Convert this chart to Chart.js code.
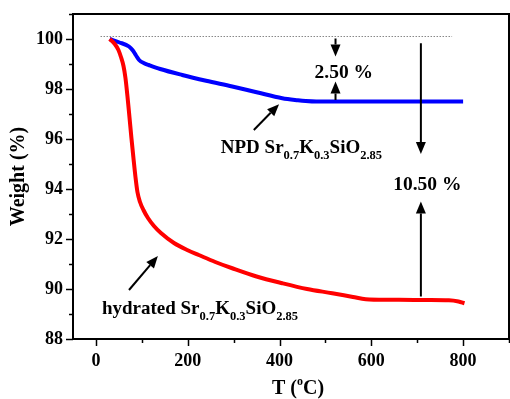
<!DOCTYPE html>
<html>
<head>
<meta charset="utf-8">
<script src="https://cdn.jsdelivr.net/npm/chart.js@4.4.1/dist/chart.umd.min.js"></script>
<style>
html,body{margin:0;padding:0;background:#fff;}
#wrap{width:510px;height:399px;position:relative;}
</style>
</head>
<body>
<div id="wrap"><canvas id="c" width="510" height="399"></canvas></div>
<script>
// ---- data ----
const npdTemp   = [30, 50, 72, 80, 87, 94, 105, 115, 140, 188, 240, 297, 350, 406, 440, 457, 480, 520, 600, 700, 800];
const npdWeight = [100, 99.87, 99.7, 99.55, 99.35, 99.16, 99.03, 98.96, 98.8, 98.56, 98.33, 98.1, 97.87, 97.63, 97.55, 97.52, 97.5, 97.5, 97.5, 97.5, 97.5];

const hydTemp   = [30, 41, 49, 54.5, 60, 64.3, 68.6, 73, 77.3, 81.7, 86.1, 90.4, 96, 103.5, 113.3, 126.4, 141.6, 170, 200, 224, 260, 297, 350, 406, 460, 515, 560, 588, 630, 660, 720, 769, 790, 803];
const hydWeight = [100, 99.8, 99.56, 99.28, 98.92, 98.44, 97.72, 96.88, 96.04, 95.24, 94.48, 93.88, 93.48, 93.16, 92.84, 92.52, 92.24, 91.84, 91.55, 91.36, 91.08, 90.83, 90.5, 90.23, 90.0, 89.83, 89.68, 89.59, 89.57, 89.57, 89.56, 89.55, 89.5, 89.43];

const refTemp   = [10, 776];
const refWeight = [100.1, 100.1];

const xTickLabels = [0, 200, 400, 600, 800];
const yTickLabels = [88, 90, 92, 94, 96, 98, 100];

const FONT = '"Liberation Serif", "Times New Roman", serif';

function toPts(xs, ys){ return xs.map((x,i)=>({x:x, y:ys[i]})); }

function richWidth(ctx, segs, base, small){
  let w = 0;
  segs.forEach(s=>{
    ctx.font = 'bold ' + (s.sub||s.sup ? small : base) + 'px ' + FONT;
    w += ctx.measureText(s.t).width;
  });
  return w;
}
function drawRich(ctx, x, y, segs, base, small, align){
  ctx.save();
  ctx.fillStyle = '#000';
  ctx.textBaseline = 'alphabetic';
  ctx.textAlign = 'left';
  let w = richWidth(ctx, segs, base, small);
  let cx = align === 'center' ? x - w/2 : x;
  segs.forEach(s=>{
    const sz = (s.sub||s.sup) ? small : base;
    ctx.font = 'bold ' + sz + 'px ' + FONT;
    let dy = s.sub ? base*0.3 : (s.sup ? -base*0.45 : 0);
    ctx.fillText(s.t, cx, y + dy);
    cx += ctx.measureText(s.t).width;
  });
  ctx.restore();
}
function arrow(ctx, x1, y1, x2, y2){
  const ang = Math.atan2(y2-y1, x2-x1);
  const hl = 12, hw = 5;
  const bx = x2 - hl*Math.cos(ang), by = y2 - hl*Math.sin(ang);
  ctx.save();
  ctx.strokeStyle = '#000'; ctx.fillStyle = '#000'; ctx.lineWidth = 2;
  ctx.beginPath(); ctx.moveTo(x1,y1); ctx.lineTo(bx,by); ctx.stroke();
  ctx.beginPath();
  ctx.moveTo(x2,y2);
  ctx.lineTo(bx + hw*Math.sin(ang), by - hw*Math.cos(ang));
  ctx.lineTo(bx - hw*Math.sin(ang), by + hw*Math.cos(ang));
  ctx.closePath(); ctx.fill();
  ctx.restore();
}

const decor = {
  id: 'decor',
  afterDraw(chart){
    const ctx = chart.ctx, xs = chart.scales.x, ys = chart.scales.y, a = chart.chartArea;
    ctx.save();
    // frame
    ctx.strokeStyle = '#000'; ctx.lineWidth = 2;
    ctx.strokeRect(a.left, a.top, a.right - a.left, a.bottom - a.top);
    // ticks
    ctx.lineWidth = 1.5;
    for (let v = 0; v <= 900; v += 100){
      const px = Math.round(xs.getPixelForValue(v)) + 0.5;
      const len = (v % 200 === 0) ? 7 : 4;
      ctx.beginPath(); ctx.moveTo(px, a.bottom); ctx.lineTo(px, a.bottom + len); ctx.stroke();
    }
    for (let v = 88; v <= 101; v += 1){
      const py = Math.round(ys.getPixelForValue(v)) + 0.5;
      const len = (v % 2 === 0) ? 7 : 4;
      ctx.beginPath(); ctx.moveTo(a.left, py); ctx.lineTo(a.left - len, py); ctx.stroke();
    }
    ctx.restore();

    // axis titles
    drawRich(ctx, (a.left + a.right)/2 + 7, 394, [{t:'T ('},{t:'o',sup:true},{t:'C)'}], 20, 12, 'center');
    ctx.save();
    ctx.translate(24, (a.top + a.bottom)/2);
    ctx.rotate(-Math.PI/2);
    drawRich(ctx, 0, 0, [{t:'Weight (%)'}], 20, 13, 'center');
    ctx.restore();

    const X = v => xs.getPixelForValue(v), Y = v => ys.getPixelForValue(v);
    // arrows
    arrow(ctx, X(522), Y(100.02), X(522), Y(99.3));
    arrow(ctx, X(522), Y(97.56), X(522), Y(98.3));
    arrow(ctx, X(708), Y(99.83), X(708), Y(95.4));
    arrow(ctx, X(708), Y(89.7), X(708), Y(93.5));
    arrow(ctx, X(344), Y(96.36), X(399), Y(97.39));
    arrow(ctx, X(72), Y(89.96), X(135), Y(91.32));

    // labels
    drawRich(ctx, X(540), Y(98.7) + 6, [{t:'2.50 %'}], 19.5, 13, 'center');
    drawRich(ctx, X(722), Y(94.2) + 6, [{t:'10.50 %'}], 19.5, 13, 'center');
    const formula = [{t:'Sr'},{t:'0.7',sub:true},{t:'K'},{t:'0.3',sub:true},{t:'SiO'},{t:'2.85',sub:true}];
    drawRich(ctx, X(272), Y(95.44), [{t:'NPD '}].concat(formula), 19, 12.5, 'left');
    drawRich(ctx, X(13), Y(89.0), [{t:'hydrated '}].concat(formula), 19, 12.5, 'left');
  }
};

new Chart(document.getElementById('c'), {
  type: 'line',
  data: {
    datasets: [
      { data: toPts(refTemp, refWeight), borderColor: '#888', borderWidth: 1, borderDash: [1.5,1.5], pointRadius: 0, fill: false },
      { data: toPts(hydTemp, hydWeight), borderColor: '#ff0000', borderWidth: 4, pointRadius: 0, fill: false, cubicInterpolationMode: 'monotone' },
      { data: toPts(npdTemp, npdWeight), borderColor: '#0000ff', borderWidth: 4, pointRadius: 0, fill: false, cubicInterpolationMode: 'monotone' }
    ]
  },
  options: {
    responsive: false,
    animation: false,
    devicePixelRatio: 1,
    layout: { padding: { left: 0, right: 1, top: 14, bottom: 0 } },
    plugins: { legend: { display: false }, tooltip: { enabled: false } },
    scales: {
      x: {
        type: 'linear', min: -50, max: 900,
        afterBuildTicks: s => { s.ticks = xTickLabels.map(v => ({ value: v })); },
        afterFit: s => { s.height = 60; s.paddingLeft = 0; s.paddingRight = 0; },
        grid: { display: false, drawTicks: false },
        border: { display: true, color: '#000', width: 2 },
        ticks: { color: '#000', padding: 12, maxRotation: 0, font: { family: FONT, size: 18, weight: 'bold' } }
      },
      y: {
        type: 'linear', min: 88, max: 101,
        afterBuildTicks: s => { s.ticks = yTickLabels.map(v => ({ value: v })); },
        afterFit: s => { s.width = 73; s.paddingTop = 0; s.paddingBottom = 0; },
        grid: { display: false, drawTicks: false },
        border: { display: true, color: '#000', width: 2 },
        ticks: { color: '#000', padding: 10, font: { family: FONT, size: 18, weight: 'bold' } }
      }
    }
  },
  plugins: [decor]
});
</script>
</body>
</html>
